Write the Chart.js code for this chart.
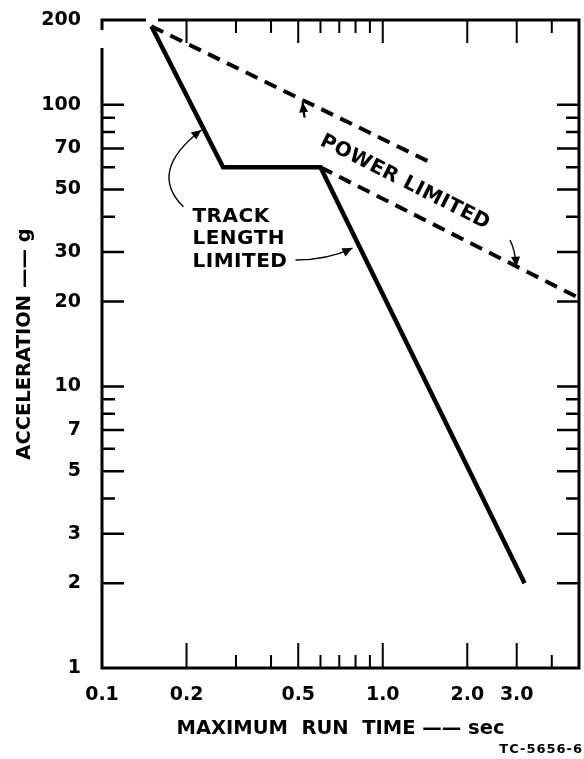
<!DOCTYPE html>
<html><head><meta charset="utf-8">
<script src="https://cdn.jsdelivr.net/npm/chart.js@4.4.1/dist/chart.umd.min.js"></script>
<style>html,body{margin:0;padding:0;background:#fff}#wrap{width:584px;height:759px;position:relative}</style>
</head><body><div id="wrap"><canvas id="c"></canvas></div>
<script>
// ---- data ----
const xTickValues = [0.1, 0.2, 0.5, 1.0, 2.0, 3.0];
const xTickLabels = ['0.1', '0.2', '0.5', '1.0', '2.0', '3.0'];
const xMajorMarks = [0.2, 0.5, 1.0, 2.0, 3.0];
const xMinorMarks = [0.3, 0.4, 0.6, 0.7, 0.8, 0.9, 4.0];
const yTickValues = [1, 2, 3, 5, 7, 10, 20, 30, 50, 70, 100, 200];
const yMajorMarks = [2, 3, 5, 7, 10, 20, 30, 50, 70, 100];
const yMinorMarks = [4, 6, 8, 9, 40, 60, 80, 90];
const trackTime  = [0.15, 0.27, 0.6, 3.2];
const trackAccel = [190, 60, 60, 2];
const powerUpperTime  = [0.15, 1.5];
const powerUpperAccel = [190, 62];
const powerLowerTime  = [0.6, 5.0];
const powerLowerAccel = [60, 20.6];

// annotation anchors (data units)
const annot = {
  trackText: {x: 0.21, ys: [40, 33.5, 27.7], lines: ['TRACK', 'LENGTH', 'LIMITED']},
  trackArrow1: {from: [0.195, 43.4], ctrl: [0.145, 58], to: [0.226, 81.4]},
  trackArrow2: {from: [0.489, 28.1], ctrl: [0.64, 28.2], to: [0.78, 31]},
  powerText: {x: 1.2, y: 53, text: 'POWER LIMITED'},
  powerArrow1: {from: [0.527, 90], ctrl: [0.522, 95], to: [0.518, 102]},
  powerArrow2: {from: [2.84, 33.1], ctrl: [2.96, 30.5], to: [2.99, 26.6]}
};

const pts = (xs, ys) => xs.map((x, i) => ({x: x, y: ys[i]}));
const FONT = 'DejaVu Sans';

const decor = {
  id: 'decor',
  beforeDraw(chart) {
    const c = chart.ctx;
    c.save(); c.fillStyle = '#fff'; c.fillRect(0, 0, chart.width, chart.height); c.restore();
  },
  afterDatasetsDraw(chart) {
    const c = chart.ctx, a = chart.chartArea, sx = chart.scales.x, sy = chart.scales.y;
    const X = v => sx.getPixelForValue(v), Y = v => sy.getPixelForValue(v);
    c.save();
    c.strokeStyle = '#000'; c.fillStyle = '#000'; c.lineCap = 'butt';
    // frame (with small gaps as in the original)
    c.lineWidth = 3;
    c.beginPath();
    c.moveTo(a.left, a.top + 10); c.lineTo(a.left, a.top); c.lineTo(a.left + 44, a.top);
    c.moveTo(a.left + 56, a.top); c.lineTo(a.right, a.top); c.lineTo(a.right, a.bottom);
    c.lineTo(a.left, a.bottom); c.lineTo(a.left, a.top + 28);
    c.stroke();
    // y tick marks (left and right, inward)
    c.lineWidth = 2.5;
    const yMark = (v, len) => {
      const p = Y(v);
      c.beginPath();
      c.moveTo(a.left, p); c.lineTo(a.left + len, p);
      c.moveTo(a.right, p); c.lineTo(a.right - len, p);
      c.stroke();
    };
    yMajorMarks.forEach(v => yMark(v, 22));
    yMinorMarks.forEach(v => yMark(v, 13));
    // x tick marks (bottom and top, inward)
    c.lineWidth = 2;
    const xMark = (v, lb, lt) => {
      const p = X(v);
      c.beginPath();
      c.moveTo(p, a.bottom); c.lineTo(p, a.bottom - lb);
      c.moveTo(p, a.top); c.lineTo(p, a.top + lt);
      c.stroke();
    };
    xMajorMarks.forEach(v => xMark(v, 25, 23));
    xMinorMarks.forEach(v => xMark(v, 13, 13));

    // arrows
    const arrow = (o, w) => {
      const p0 = [X(o.from[0]), Y(o.from[1])], pc = [X(o.ctrl[0]), Y(o.ctrl[1])], p2 = [X(o.to[0]), Y(o.to[1])];
      c.lineWidth = w;
      c.beginPath(); c.moveTo(p0[0], p0[1]); c.quadraticCurveTo(pc[0], pc[1], p2[0], p2[1]); c.stroke();
      const ang = Math.atan2(p2[1] - pc[1], p2[0] - pc[0]);
      const L = 10, W = 4.5;
      c.beginPath();
      c.moveTo(p2[0], p2[1]);
      c.lineTo(p2[0] - L * Math.cos(ang) + W * Math.sin(ang), p2[1] - L * Math.sin(ang) - W * Math.cos(ang));
      c.lineTo(p2[0] - L * Math.cos(ang) - W * Math.sin(ang), p2[1] - L * Math.sin(ang) + W * Math.cos(ang));
      c.closePath(); c.fill();
    };
    arrow(annot.trackArrow1, 1.4);
    arrow(annot.trackArrow2, 1.4);
    arrow(annot.powerArrow1, 2.2);
    arrow(annot.powerArrow2, 1.4);

    // TRACK LENGTH LIMITED
    c.font = 'bold 20px "' + FONT + '"';
    try { c.letterSpacing = '0.5px'; } catch (e) {}
    c.textAlign = 'left'; c.textBaseline = 'middle';
    annot.trackText.lines.forEach((t, i) => c.fillText(t, X(annot.trackText.x), Y(annot.trackText.ys[i])));

    // POWER LIMITED (rotated along the dashed lines)
    const lx0 = X(powerLowerTime[0]), ly0 = Y(powerLowerAccel[0]);
    const lx1 = X(powerLowerTime[1]), ly1 = Y(powerLowerAccel[1]);
    const rot = Math.atan2(ly1 - ly0, lx1 - lx0);
    c.save();
    c.translate(X(annot.powerText.x), Y(annot.powerText.y));
    c.rotate(rot);
    c.textAlign = 'center';
    c.fillText(annot.powerText.text, 0, 0);
    c.restore();

    // drawing number
    c.font = 'bold 13px "' + FONT + '"';
    try { c.letterSpacing = '1px'; } catch (e) {}
    c.textAlign = 'right'; c.textBaseline = 'middle';
    c.fillText('TC-5656-6', chart.width - 1, chart.height - 9);
    c.restore();
  }
};

new Chart(document.getElementById('c'), {
  type: 'scatter',
  data: {
    datasets: [
      {label: 'Track length limited', data: pts(trackTime, trackAccel), showLine: true,
       borderColor: '#000', backgroundColor: '#000', borderWidth: 4.5, pointRadius: 0,
       borderJoinStyle: 'miter', tension: 0},
      {label: 'Power limited', data: pts(powerUpperTime, powerUpperAccel), showLine: true,
       borderColor: '#000', backgroundColor: '#000', borderWidth: 4, borderDash: [13, 8], pointRadius: 0},
      {label: 'Power limited', data: pts(powerLowerTime, powerLowerAccel), showLine: true,
       borderColor: '#000', backgroundColor: '#000', borderWidth: 4, borderDash: [13, 8], pointRadius: 0}
    ]
  },
  options: {
    responsive: true, maintainAspectRatio: false, animation: false,
    layout: {padding: {left: 0, right: 5, top: 20, bottom: 0}},
    plugins: {legend: {display: false}, tooltip: {enabled: false}},
    scales: {
      x: {
        type: 'logarithmic', min: 0.1, max: 5,
        afterBuildTicks: s => { s.ticks = xTickValues.map(v => ({value: v})); },
        afterFit: s => { s.height = 91; s.paddingLeft = 0; s.paddingRight = 0; },
        grid: {display: false, drawTicks: false}, border: {display: false},
        ticks: {autoSkip: false, maxRotation: 0, minRotation: 0, padding: 16, color: '#000',
                font: {family: FONT, size: 19, weight: 'bold'}, callback: (v, i) => xTickLabels[i]},
        title: {display: true, text: 'MAXIMUM  RUN  TIME —— sec', color: '#000',
                font: {family: FONT, size: 19.5, weight: 'bold'}, padding: {top: 0, bottom: 18}}
      },
      y: {
        type: 'logarithmic', min: 1, max: 200,
        afterBuildTicks: s => { s.ticks = yTickValues.map(v => ({value: v})); },
        afterFit: s => { s.width = 102; s.paddingTop = 0; s.paddingBottom = 0; },
        grid: {display: false, drawTicks: false}, border: {display: false},
        ticks: {autoSkip: false, padding: 21, color: '#000',
                font: {family: FONT, size: 19, weight: 'bold'}, callback: (v, i) => String(yTickValues[i])},
        title: {display: true, text: 'ACCELERATION —— g', color: '#000',
                font: {family: FONT, size: 19.5, weight: 'bold'}, padding: {top: 13, bottom: 0}}
      }
    }
  },
  plugins: [decor]
});
</script>
</body></html>
